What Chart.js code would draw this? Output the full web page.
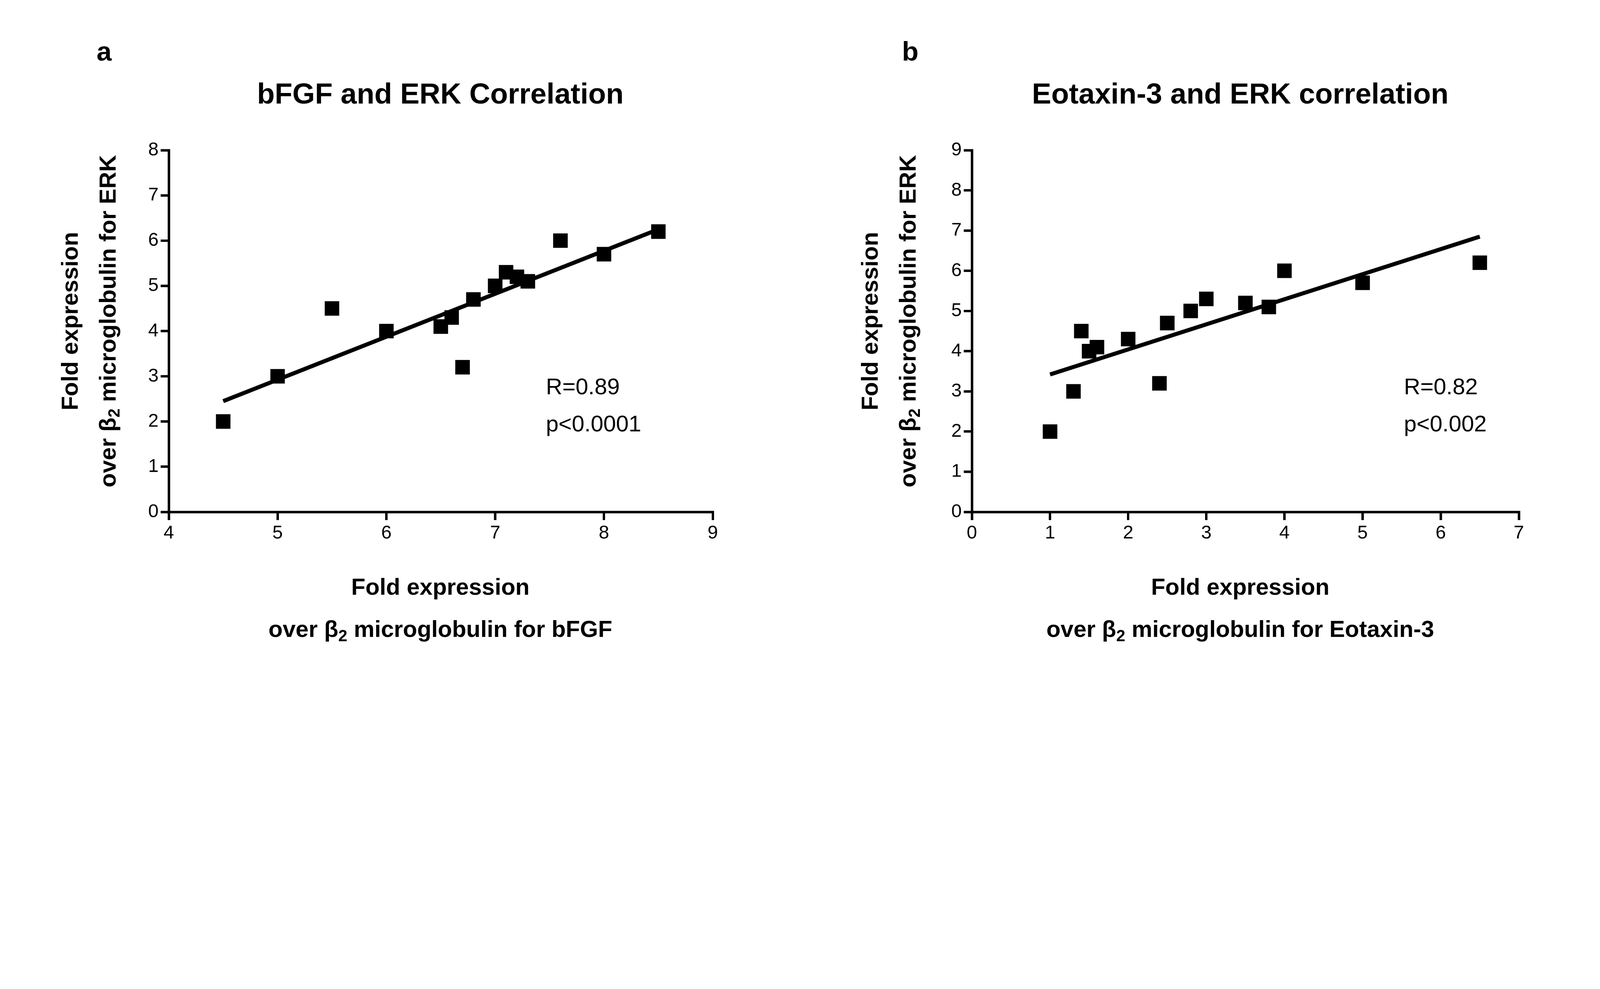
<!DOCTYPE html>
<html><head><meta charset="utf-8">
<script src="https://cdn.jsdelivr.net/npm/chart.js@4"></script>
<style>
html,body{margin:0;background:#fff;overflow:hidden}
#wrap{width:5915px;height:2531px;position:relative;transform-origin:0 0;font-family:"Liberation Sans",Arial,sans-serif;color:#000}
.t{position:absolute;white-space:nowrap;transform:translate(-50%,-50%);font-weight:bold}
.c{position:absolute}
.yt{position:absolute;white-space:nowrap;transform:translate(-50%,-50%) rotate(-90deg);font-weight:bold;font-size:86px;text-align:center;line-height:140px}
.xt{position:absolute;white-space:nowrap;transform:translateX(-50%);font-weight:bold;font-size:86px;text-align:center;line-height:156px}
.st{position:absolute;font-size:84px;line-height:137px}
sub{font-size:0.7em;vertical-align:-0.25em}
</style></head><body>
<div id="wrap">
<div class="t" style="left:385px;top:190px;font-size:100px">a</div>
<div class="t" style="left:3365px;top:190px;font-size:100px">b</div>
<div class="t" style="left:1628px;top:345px;font-size:107px">bFGF and ERK Correlation</div>
<div class="t" style="left:4585px;top:345px;font-size:107px">Eotaxin-3 and ERK correlation</div>
<div class="yt" style="left:340px;top:1187px">Fold expression<br>over β<sub>2</sub> microglobulin for ERK</div>
<div class="yt" style="left:3298px;top:1187px">Fold expression<br>over β<sub>2</sub> microglobulin for ERK</div>
<div class="xt" style="left:1628px;top:2090px">Fold expression<br>over β<sub>2</sub> microglobulin for bFGF</div>
<div class="xt" style="left:4585px;top:2090px">Fold expression<br>over β<sub>2</sub> microglobulin for Eotaxin-3</div>
<div class="st" style="left:2018px;top:1360px">R=0.89<br>p&lt;0.0001</div>
<div class="st" style="left:5190px;top:1360px">R=0.82<br>p&lt;0.002</div>
<div class="c" style="left:400px;top:450px;width:2300px;height:1650px"><canvas id="ca"></canvas></div>
<div class="c" style="left:3369px;top:450px;width:2311px;height:1650px"><canvas id="cb"></canvas></div>
</div>
<script>
// panel a: bFGF vs ERK
const bfgfX = [4.5, 5.0, 5.5, 6.0, 6.5, 6.6, 6.7, 6.8, 7.0, 7.1, 7.2, 7.3, 7.6, 8.0, 8.5];
const erkA  = [2.0, 3.0, 4.5, 4.0, 4.1, 4.3, 3.2, 4.7, 5.0, 5.3, 5.2, 5.1, 6.0, 5.7, 6.2];
const fitAX = [4.5, 8.5];
const fitAY = [2.45, 6.25];
const ticksAX = [4, 5, 6, 7, 8, 9];
const ticksAY = [0, 1, 2, 3, 4, 5, 6, 7, 8];
// panel b: Eotaxin-3 vs ERK
const eotX = [1.0, 1.3, 1.4, 1.5, 1.6, 2.0, 2.4, 2.5, 2.8, 3.0, 3.5, 3.8, 4.0, 5.0, 6.5];
const erkB = [2.0, 3.0, 4.5, 4.0, 4.1, 4.3, 3.2, 4.7, 5.0, 5.3, 5.2, 5.1, 6.0, 5.7, 6.2];
const fitBX = [1.0, 6.5];
const fitBY = [3.42, 6.85];
const ticksBX = [0, 1, 2, 3, 4, 5, 6, 7];
const ticksBY = [0, 1, 2, 3, 4, 5, 6, 7, 8, 9];

// fit the 5915-wide layout into whatever the viewport really is
const wrap = document.getElementById('wrap');
const k = window.innerWidth / 5915;
wrap.style.transform = 'scale(' + k + ')';

function makeChart(id, xs, ys, fx, fy, tx, ty) {
    const axisCommon = {
        type: 'linear',
        grid: { drawOnChartArea: false, color: '#000', lineWidth: 9, tickLength: 30 },
        border: { color: '#000', width: 9 },
        ticks: { color: '#000', font: { family: 'Liberation Sans', size: 69 }, padding: 8 }
    };
    return new Chart(document.getElementById(id), {
        type: 'scatter',
        data: {
            datasets: [
                { data: xs.map((x, i) => ({ x: x, y: ys[i] })), pointStyle: 'rect', pointRadius: 38,
                  backgroundColor: '#000', borderColor: '#000', borderWidth: 0 },
                { type: 'line', data: fx.map((x, i) => ({ x: x, y: fy[i] })), borderColor: '#000',
                  borderWidth: 15, pointRadius: 0, fill: false }
            ]
        },
        options: {
            responsive: true, maintainAspectRatio: false, animation: false,
            layout: { padding: { top: 105, right: 65 } },
            plugins: { legend: { display: false }, tooltip: { enabled: false } },
            scales: {
                x: Object.assign({}, axisCommon, {
                    min: tx[0], max: tx[tx.length - 1],
                    afterBuildTicks: s => { s.ticks = tx.map(v => ({ value: v })); },
                    afterFit: s => { s.height = 208; }
                }),
                y: Object.assign({}, axisCommon, {
                    min: ty[0], max: ty[ty.length - 1],
                    afterBuildTicks: s => { s.ticks = ty.map(v => ({ value: v })); },
                    afterFit: s => { s.width = 224; }
                })
            }
        }
    });
}
makeChart('ca', bfgfX, erkA, fitAX, fitAY, ticksAX, ticksAY);
makeChart('cb', eotX, erkB, fitBX, fitBY, ticksBX, ticksBY);
</script>
</body></html>
